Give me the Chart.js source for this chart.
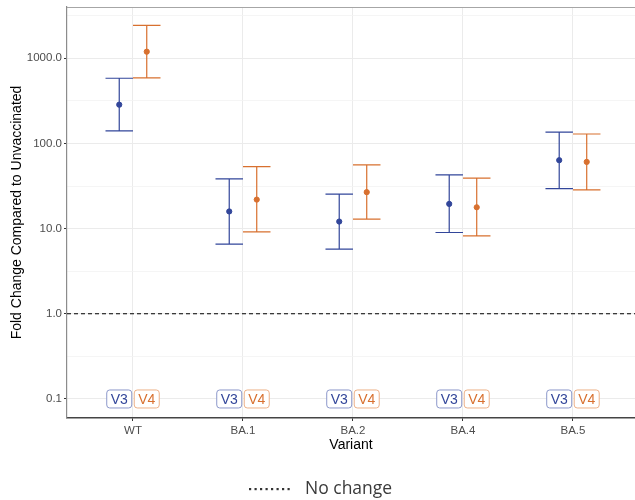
<!DOCTYPE html>
<html>
<head>
<meta charset="utf-8">
<script src="https://cdn.jsdelivr.net/npm/chart.js@4"></script>
<style>
html,body{margin:0;padding:0;background:#fff;}
#wrap{position:relative;width:635px;height:500px;}
</style>
</head>
<body>
<div id="wrap"><canvas id="c" width="635" height="500"></canvas></div>
<script>
// ---- data ----
const categories = ['WT', 'BA.1', 'BA.2', 'BA.4', 'BA.5'];
const seriesNames = ['V3', 'V4'];
const v3Mid  = [285, 15.9, 12.1, 19.5, 63.5];
const v3Low  = [140, 6.57, 5.74, 9.0, 29.5];
const v3High = [582, 38.4, 25.4, 42.7, 136];
const v4Mid  = [1194, 21.9, 26.8, 17.8, 60.7];
const v4Low  = [587, 9.16, 12.9, 8.22, 28.5];
const v4High = [2436, 53.4, 56.0, 39.1, 129];
const yMajorTicks = [0.1, 1, 10, 100, 1000];
const yTickLabels = ['0.1', '1.0', '10.0', '100.0', '1000.0'];
const refValue = 1;
const labelValue = 0.1;
const legendLabel = 'No change';

// ---- style ----
const BLUE = '#32469A';
const ORANGE = '#D8702F';
const BLUE_LIGHT = '#8C98CB';
const ORANGE_LIGHT = '#EDB189';
const DODGE = 0.125;
const X_MIN = -0.6, X_MAX = 4.564;
const Y_MIN = 0.0598, Y_MAX = 3993;

const yMinor = yMajorTicks.map(v => v * Math.sqrt(10));

function pts(mid, off) { return mid.map((v, i) => ({x: i + off, y: v})); }
function noPad(s) { s.paddingLeft = 0; s.paddingRight = 0; s.paddingTop = 0; s.paddingBottom = 0; }

const series = [
  {name: seriesNames[0], mid: v3Mid, low: v3Low, high: v3High, off: -DODGE, color: BLUE, light: BLUE_LIGHT},
  {name: seriesNames[1], mid: v4Mid, low: v4Low, high: v4High, off: DODGE, color: ORANGE, light: ORANGE_LIGHT}
];

const errorBarPlugin = {
  id: 'errorBars',
  beforeDatasetsDraw(chart) {
    const {ctx, scales: {x, y}, chartArea} = chart;
    ctx.save();
    // top border of panel
    ctx.strokeStyle = '#A6A6A6';
    ctx.lineWidth = 1.2;
    ctx.beginPath();
    ctx.moveTo(chartArea.left, chartArea.top + 0.5);
    ctx.lineTo(chartArea.right, chartArea.top + 0.5);
    ctx.stroke();
    series.forEach(s => {
      ctx.strokeStyle = s.color;
      ctx.lineWidth = 1.2;
      s.mid.forEach((m, i) => {
        const cx = x.getPixelForValue(i + s.off);
        const xl = x.getPixelForValue(i + s.off - DODGE);
        const xr = x.getPixelForValue(i + s.off + DODGE);
        const yl = y.getPixelForValue(s.low[i]);
        const yh = y.getPixelForValue(s.high[i]);
        ctx.beginPath();
        ctx.moveTo(cx, yl); ctx.lineTo(cx, yh);
        ctx.moveTo(xl, yl); ctx.lineTo(xr, yl);
        ctx.moveTo(xl, yh); ctx.lineTo(xr, yh);
        ctx.stroke();
      });
    });
    ctx.restore();
  },
  afterDraw(chart) {
    const {ctx, scales: {x, y}} = chart;
    ctx.save();
    // label boxes
    ctx.font = '14px "Liberation Sans", Arial, sans-serif';
    ctx.textAlign = 'center';
    ctx.textBaseline = 'middle';
    const yc = y.getPixelForValue(labelValue);
    categories.forEach((c, i) => {
      series.forEach(s => {
        const cx = x.getPixelForValue(i + s.off);
        const w = 26, h = 19;
        ctx.fillStyle = '#fff';
        ctx.strokeStyle = s.light;
        ctx.lineWidth = 1;
        ctx.beginPath();
        ctx.roundRect(cx - w / 2 + 0.5, yc - h / 2 + 0.5, w - 1, h - 1, 3);
        ctx.fill();
        ctx.stroke();
        ctx.fillStyle = s.color;
        ctx.fillText(s.name, cx, yc + 1);
      });
    });
    // legend
    const ly = 489;
    ctx.fillStyle = '#333';
    for (let k = 0; k < 8; k++) {
      ctx.fillRect(249 + k * 5.5, ly - 1, 2.2, 2.2);
    }
    ctx.font = '17.5px "Open Sans", sans-serif';
    ctx.textAlign = 'left';
    ctx.fillStyle = '#3a3a3a';
    ctx.fillText(legendLabel, 305, ly);
    ctx.restore();
  }
};

new Chart(document.getElementById('c'), {
  type: 'scatter',
  data: {
    datasets: [
      {
        type: 'line', data: [{x: X_MIN, y: refValue}, {x: X_MAX, y: refValue}],
        borderColor: '#000', borderWidth: 1.1, borderDash: [4, 3], pointRadius: 0, order: 3
      },
      {data: pts(v3Mid, -DODGE), backgroundColor: BLUE, borderColor: BLUE, pointRadius: 2.6, order: 1},
      {data: pts(v4Mid, DODGE), backgroundColor: ORANGE, borderColor: ORANGE, pointRadius: 2.6, order: 1}
    ]
  },
  options: {
    responsive: false,
    animation: false,
    layout: {autoPadding: false, padding: {left: 0, right: 0, top: 7, bottom: 46}},
    plugins: {legend: {display: false}, tooltip: {enabled: false}},
    scales: {
      x: {
        type: 'linear', min: X_MIN, max: X_MAX,
        afterBuildTicks: s => { s.ticks = categories.map((c, i) => ({value: i})); },
        afterFit: s => { s.height = 36; noPad(s); },
        ticks: {
          callback: v => categories[v] ?? '',
          color: '#4D4D4D', font: {size: 11.5, family: '"Liberation Sans", Arial, sans-serif'},
          padding: 3, maxRotation: 0, autoSkip: false
        },
        grid: {color: '#EBEBEB', lineWidth: 1, tickLength: 3, tickColor: '#333', drawOnChartArea: true},
        border: {color: '#444', width: 1.4},
        title: {display: true, text: 'Variant', color: '#000',
          font: {size: 14, family: '"Liberation Sans", Arial, sans-serif'}, padding: {top: 0, bottom: 0}}
      },
      y: {
        type: 'logarithmic', min: Y_MIN, max: Y_MAX,
        afterBuildTicks: s => {
          const all = yMajorTicks.concat(yMinor.filter(v => v < Y_MAX)).sort((a, b) => a - b);
          s.ticks = all.map(v => ({value: v}));
        },
        afterFit: s => { s.width = 67; noPad(s); },
        ticks: {
          callback: v => { const k = yMajorTicks.indexOf(v); return k >= 0 ? yTickLabels[k] : ''; },
          color: '#4D4D4D', font: {size: 11.5, family: '"Liberation Sans", Arial, sans-serif'},
          padding: 2, autoSkip: false
        },
        grid: {
          color: c => yMajorTicks.includes(c.tick && c.tick.value) ? '#EBEBEB' : '#F3F3F3',
          lineWidth: c => yMajorTicks.includes(c.tick && c.tick.value) ? 1.1 : 0.8,
          tickLength: 3,
          tickColor: c => yMajorTicks.includes(c.tick && c.tick.value) ? '#333' : 'rgba(0,0,0,0)'
        },
        border: {color: '#8C8C8C', width: 1.2},
        title: {display: true, text: 'Fold Change Compared to Unvaccinated', color: '#000',
          font: {size: 14, family: '"Liberation Sans", Arial, sans-serif'}, padding: {top: 9, bottom: 0}}
      }
    }
  },
  plugins: [errorBarPlugin]
});
</script>
</body>
</html>
